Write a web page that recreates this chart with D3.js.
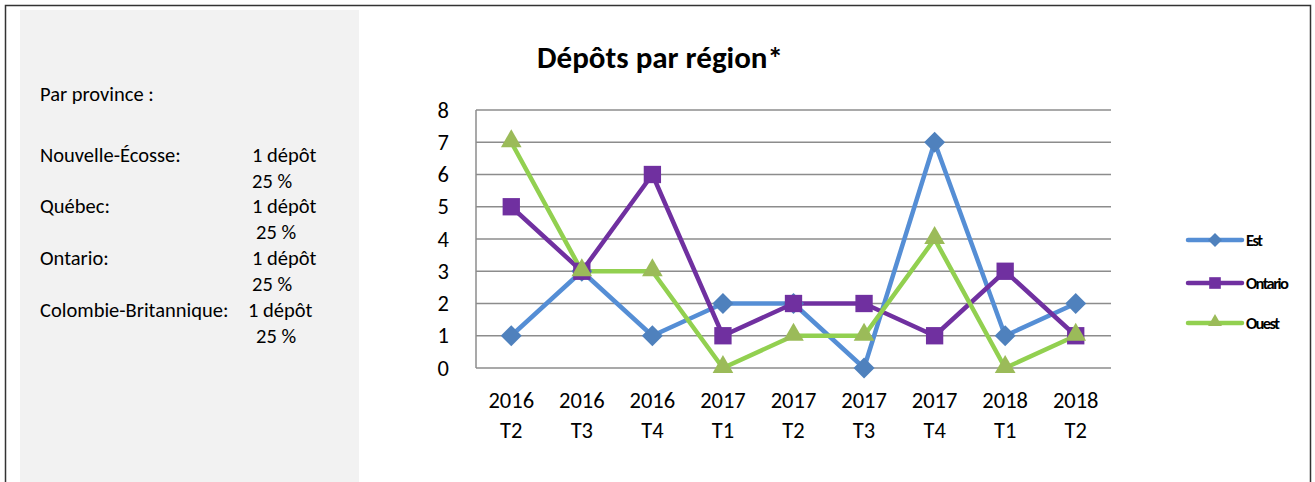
<!DOCTYPE html>
<html><head><meta charset="utf-8">
<script src="https://cdn.jsdelivr.net/npm/d3@7"></script>
<style>body{margin:0;background:#fff;}svg{display:block;font-family:Carlito,Calibri,Lato,"Open Sans",sans-serif;}</style>
</head><body>
<svg id="c" width="1315" height="482"></svg>
<script>
const categories = [["2016","T2"],["2016","T3"],["2016","T4"],["2017","T1"],["2017","T2"],["2017","T3"],["2017","T4"],["2018","T1"],["2018","T2"]];
const est = [1,3,1,2,2,0,7,1,2];
const ontario = [5,3,6,1,2,2,1,3,1];
const ouest = [7,3,3,0,1,1,4,0,1];
const yTicks = [0,1,2,3,4,5,6,7,8];
const seriesNames = ["Est","Ontario","Ouest"];
const colors = ["#558ed5","#7030a0","#92d050"];
const markerColors = ["#4f81bd","#7030a0","#9bbb59"];
const provinces = [["Nouvelle-Écosse:","1 dépôt","25 %"],["Québec:","1 dépôt","25 %"],["Ontario:","1 dépôt","25 %"],["Colombie-Britannique:","1 dépôt","25 %"]];

const svg = d3.select("#c");
svg.append("rect").attr("x",5.5).attr("y",5.5).attr("width",1305).attr("height",490).attr("fill","#fff").attr("stroke","#333").attr("stroke-width",1.5);
svg.append("rect").attr("x",20).attr("y",10).attr("width",339).attr("height",480).attr("fill","#f2f2f2");

// left text
const lt = svg.append("g").attr("font-size",20.5).attr("fill","#000");
lt.append("text").attr("x",40).attr("y",101).text("Par province :");
const rowY = [162,213,265,317];
const pctX = [252,256,252,256];
const depX = [252,252,252,248];
provinces.forEach((p,i)=>{
  lt.append("text").attr("x",40).attr("y",rowY[i]).text(p[0]);
  lt.append("text").attr("x",depX[i]).attr("y",rowY[i]).text(p[1]);
  lt.append("text").attr("x",pctX[i]).attr("y",rowY[i]+26).text(p[2]);
});

// chart
const x = d3.scaleBand().domain(d3.range(categories.length)).range([476,1111]);
const y = d3.scaleLinear().domain([0,8]).range([368,110]);

svg.append("text").attr("x",660).attr("y",68).attr("text-anchor","middle").attr("font-size",31).attr("font-weight","bold").text("Dépôts par région*");

const grid = svg.append("g");
grid.selectAll("line").data(yTicks.slice(1)).join("line")
  .attr("x1",476).attr("x2",1111).attr("y1",d=>y(d)).attr("y2",d=>y(d)).attr("stroke","#8c8c8c").attr("stroke-width",1.3);
svg.append("line").attr("x1",476).attr("x2",476).attr("y1",110).attr("y2",368).attr("stroke","#8c8c8c").attr("stroke-width",1.5);
svg.append("line").attr("x1",476).attr("x2",1111).attr("y1",368).attr("y2",368).attr("stroke","#8c8c8c").attr("stroke-width",1.5);

const yAxis = d3.axisLeft(y).tickValues(yTicks).tickSize(0).tickPadding(27);
const ya = svg.append("g").attr("transform","translate(476,0)").call(yAxis);
ya.select(".domain").remove();
ya.selectAll("text").attr("font-size",22.5).attr("font-family","Carlito,Calibri,Lato,sans-serif").attr("fill","#000");

const xa = svg.append("g");
categories.forEach((c,i)=>{
  const cx = x(i)+x.bandwidth()/2;
  xa.append("text").attr("x",cx).attr("y",408).attr("text-anchor","middle").attr("font-size",22.5).text(c[0]);
  xa.append("text").attr("x",cx).attr("y",438).attr("text-anchor","middle").attr("font-size",22.5).text(c[1]);
});

const data = [est,ontario,ouest];
const symbols = [d3.symbolSquare, d3.symbolSquare, d3.symbolTriangle];
const rot = [45,0,0];
const sizes = [220,300,185];
const line = d3.line().x((d,i)=>x(i)+x.bandwidth()/2).y(d=>y(d));
data.forEach((s,k)=>{
  svg.append("path").datum(s).attr("d",line).attr("fill","none").attr("stroke",colors[k]).attr("stroke-width",4.5).attr("stroke-linejoin","round");
});
data.forEach((s,k)=>{
  svg.append("g").selectAll("path").data(s).join("path")
    .attr("transform",(d,i)=>`translate(${x(i)+x.bandwidth()/2},${y(d)+(k==2?-1:0)}) rotate(${rot[k]})`)
    .attr("d",d3.symbol().type(symbols[k]).size(sizes[k])).attr("fill",markerColors[k]);
});

// legend
const legY = [240,283,323];
seriesNames.forEach((n,k)=>{
  const g = svg.append("g");
  g.append("line").attr("x1",1188).attr("x2",1242).attr("y1",legY[k]).attr("y2",legY[k]).attr("stroke",colors[k]).attr("stroke-width",4.5).attr("stroke-linecap","round");
  g.append("path").attr("transform",`translate(1215,${legY[k]-(k==2?1:0)}) rotate(${rot[k]})`).attr("d",d3.symbol().type(symbols[k]).size(sizes[k]*0.45)).attr("fill",markerColors[k]);
  g.append("text").attr("x",1246).attr("y",legY[k]+6).attr("font-size",16.5).attr("font-weight","bold").attr("letter-spacing","-1.6").text(n);
});
</script>
</body></html>
